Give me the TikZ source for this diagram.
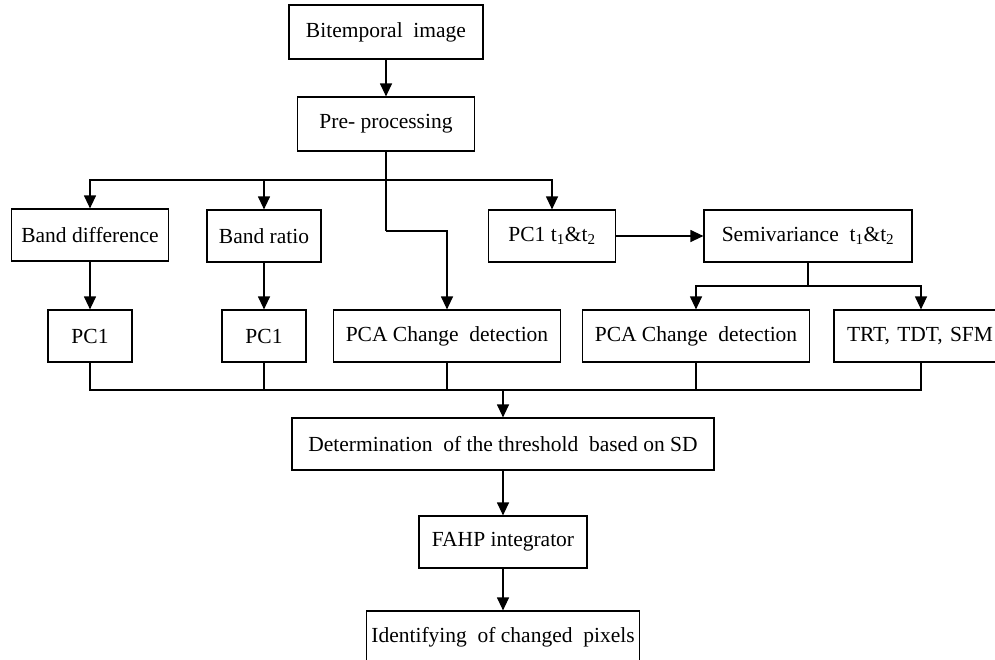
\documentclass[tikz,border=0pt]{standalone}
\usepackage{fontspec}
\setmainfont{Liberation Serif}
\usetikzlibrary{arrows.meta,positioning}

\begin{document}
\begin{tikzpicture}[x=1pt,y=-1pt,
    box/.style={draw=black, line width=1.2pt, fill=white, inner sep=0pt,
                minimum height=52pt, font=\fontsize{21.5}{25}\selectfont},
    arr/.style={draw=black, line width=1.2pt, -{Triangle[width=12pt,length=13pt]}},
    ln/.style={draw=black, line width=1.2pt}]
  \useasboundingbox (0,0) rectangle (995,659);
  % top
  \node[box, minimum width=194pt, minimum height=54pt] (bi) at (386,32) {Bitemporal\ \ image};
  \node[box, minimum width=177pt, minimum height=54pt] (pre) at (386,124) {Pre- processing};
  % first row
  \node[box, minimum width=157pt] (bd) at (90,235) {Band difference};
  \node[box, minimum width=114pt] (br) at (264,236) {Band ratio};
  \node[box, minimum width=127pt] (pct) at (552,236) {PC1 t\textsubscript{1}\&t\textsubscript{2}};
  \node[box, minimum width=208pt] (sv) at (808,236) {Semivariance\ \ t\textsubscript{1}\&t\textsubscript{2}};
  % second row
  \node[box, minimum width=84pt] (pcl) at (90,336) {PC1};
  \node[box, minimum width=84pt] (pcm) at (264,336) {PC1};
  \node[box, minimum width=227pt] (pcal) at (447,336) {PCA Change\ \ detection};
  \node[box, minimum width=227pt] (pcar) at (696,336) {PCA Change\ \ detection};
  \node[box, minimum width=174pt, align=left, text width=148pt] (trt) at (921,336) {TRT, TDT, SFM};
  % bottom
  \node[box, minimum width=422pt] (thr) at (503,444) {Determination\ \ of the threshold\ \ based on SD};
  \node[box, minimum width=168pt] (fahp) at (503,542) {FAHP integrator};
  \node[box, minimum width=273pt] (idp) at (503,637) {Identifying\ \ of changed\ \ pixels};

  \coordinate (split) at (386,180);
  \coordinate (bend) at (386,231);
  \coordinate (svs) at (808,286);
  \coordinate (join) at (503,390);

  \draw[arr] (bi) -- (pre);
  \draw[ln, line width=2pt] (pre.south) -- (split);
  \draw[arr] (split) -| (bd.north);
  \draw[arr] (split) -| (br.north);
  \draw[arr] (split) -| (pct.north);
  \draw[ln] (split) -- (bend);
  \draw[arr] (bend) -| (pcal.north);
  \draw[arr] (pct) -- (sv);
  \draw[arr] (bd) -- (pcl);
  \draw[arr] (br) -- (pcm);
  \draw[ln] (sv.south) -- (svs);
  \draw[arr] (svs) -| (pcar.north);
  \draw[arr] (svs) -| (trt.north);
  % merge
  \draw[ln] (pcl.south) |- (join);
  \draw[ln] (pcm.south) |- (join);
  \draw[ln] (pcal.south) |- (join);
  \draw[ln] (pcar.south) |- (join);
  \draw[ln] (trt.south) |- (join);
  \draw[arr] (join) -- (thr);
  \draw[arr] (thr) -- (fahp);
  \draw[arr] (fahp) -- (idp);
\end{tikzpicture}
\end{document}
